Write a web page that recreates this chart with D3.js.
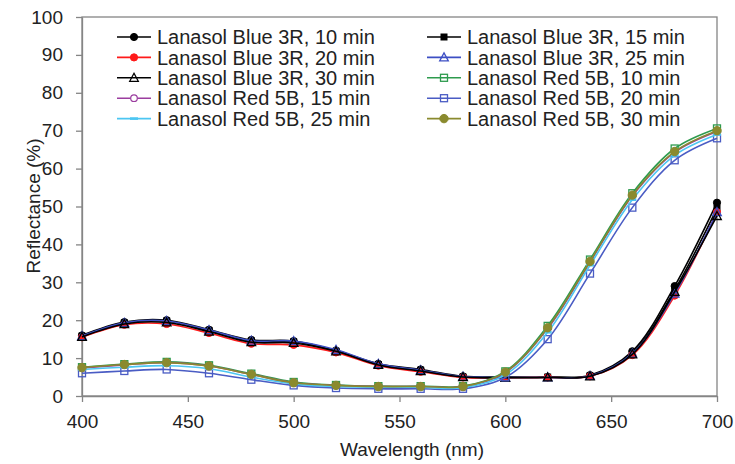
<!DOCTYPE html>
<html><head><meta charset="utf-8">
<script src="https://cdn.jsdelivr.net/npm/d3@7"></script>
<style>body{margin:0;background:#fff}svg{display:block}</style>
</head><body><svg id="c" width="735" height="464"></svg>
<script>
const wavelengths = [400,420,440,460,480,500,520,540,560,580,600,620,640,660,680,700];
const seriesNames = ["Lanasol Blue 3R, 10 min","Lanasol Blue 3R, 15 min","Lanasol Blue 3R, 20 min","Lanasol Blue 3R, 25 min","Lanasol Blue 3R, 30 min","Lanasol Red 5B, 10 min","Lanasol Red 5B, 15 min","Lanasol Red 5B, 20 min","Lanasol Red 5B, 25 min","Lanasol Red 5B, 30 min"];
const blue10 = [16.0,19.5,20.0,17.5,14.8,14.5,12.0,8.5,7.0,5.2,5.0,5.0,5.5,11.8,29.0,51.0];
const blue15 = [15.8,19.3,19.8,17.3,14.5,14.3,11.8,8.3,6.8,5.0,4.9,5.0,5.3,11.3,28.0,49.5];
const blue20 = [15.5,18.8,19.0,16.6,13.8,13.5,11.5,8.0,6.4,4.9,4.8,4.9,5.2,10.8,26.5,48.5];
const blue25 = [15.8,19.3,19.8,17.4,14.6,14.5,12.2,8.5,6.8,5.1,4.9,4.9,5.3,11.2,27.0,48.5];
const blue30 = [15.6,19.0,19.4,17.0,14.2,14.0,11.8,8.2,6.6,5.0,4.8,4.9,5.2,11.0,27.5,47.5];
const red10 = [7.6,8.4,9.0,8.1,5.9,3.7,2.9,2.6,2.6,2.6,6.5,18.5,36.0,53.5,65.3,70.6];
const red15 = [7.4,8.2,8.8,7.9,5.7,3.5,2.8,2.5,2.5,2.4,6.2,17.8,35.3,52.8,64.3,69.8];
const red20 = [6.0,6.6,7.0,6.0,4.3,2.8,2.1,1.9,1.9,1.9,4.9,15.0,32.3,49.7,62.2,68.0];
const red25 = [7.0,7.6,8.0,7.2,5.0,3.2,2.5,2.3,2.3,2.2,5.6,16.8,34.5,51.8,63.5,69.0];
const red30 = [7.5,8.3,8.8,7.9,5.7,3.5,2.8,2.5,2.5,2.5,6.3,18.0,35.5,53.0,64.5,70.0];
const xTicks = [400,450,500,550,600,650,700];
const yTicks = [0,10,20,30,40,50,60,70,80,90,100];
const colors = ["#000000","#000000","#ff1a1a","#3d4fc4","#000000","#2e9b4e","#9b3d9f","#4a5cc4","#4cc6f2","#8a8a2e"];
const markers = ["circleFill","squareFill","circleFill","triangleOpen","triangleOpen","squareOpen","circleOpen","squareOpen","dash","circleFill"];
const values = [blue10,blue15,blue20,blue25,blue30,red10,red15,red20,red25,red30];

const svg = d3.select("#c");
const FONT = "Liberation Sans, Arial, sans-serif";
const x = d3.scaleLinear().domain([400,700]).range([82,717]);
const y = d3.scaleLinear().domain([0,100]).range([396,17]);
const axisCol = "#858585";

svg.append("rect").attr("x",82).attr("y",17).attr("width",635).attr("height",379)
  .attr("fill","none").attr("stroke",axisCol).attr("stroke-width",1.3);

const gx = svg.append("g").attr("transform","translate(0,396)")
  .call(d3.axisBottom(x).tickValues(xTicks).tickSize(6).tickPadding(13).tickSizeOuter(0));
const gy = svg.append("g").attr("transform","translate(82,0)")
  .call(d3.axisLeft(y).tickValues(yTicks).tickSize(6).tickPadding(13).tickSizeOuter(0));
[gx,gy].forEach(g=>{
  g.select(".domain").attr("stroke",axisCol).attr("stroke-width",1.3);
  g.selectAll(".tick line").attr("stroke",axisCol).attr("stroke-width",1.3);
  g.selectAll("text").attr("font-family",FONT).attr("font-size",19).attr("fill","#222");
});

svg.append("text").attr("x",412).attr("y",456).attr("text-anchor","middle")
  .attr("font-family",FONT).attr("font-size",19).attr("fill","#222").text("Wavelength (nm)");
svg.append("text").attr("transform","translate(40,206) rotate(-90)").attr("text-anchor","middle")
  .attr("font-family",FONT).attr("font-size",19).attr("fill","#222").text("Reflectance (%)");

function drawMarker(g, type, cx, cy, col){
  if(type==="circleFill") g.append("circle").attr("cx",cx).attr("cy",cy).attr("r",col==="#8a8a2e"?4.2:3.6).attr("fill",col).attr("stroke",col);
  else if(type==="circleOpen") g.append("circle").attr("cx",cx).attr("cy",cy).attr("r",3.3).attr("fill","#fff").attr("stroke",col).attr("stroke-width",1.2);
  else if(type==="squareFill") g.append("rect").attr("x",cx-3.5).attr("y",cy-3.5).attr("width",7).attr("height",7).attr("fill",col);
  else if(type==="squareOpen") g.append("rect").attr("x",cx-3.5).attr("y",cy-3.5).attr("width",7).attr("height",7).attr("fill","none").attr("stroke",col).attr("stroke-width",1.3);
  else if(type==="triangleOpen") g.append("path").attr("d",`M${cx},${cy-4.5}L${cx+4.3},${cy+3.5}L${cx-4.3},${cy+3.5}Z`).attr("fill","none").attr("stroke",col).attr("stroke-width",1.3);
  else if(type==="dash") g.append("rect").attr("x",cx-4).attr("y",cy-1.3).attr("width",8).attr("height",2.6).attr("fill",col);
}

const line = d3.line().x((d,i)=>x(wavelengths[i])).y(d=>y(d)).curve(d3.curveCatmullRom.alpha(0.5));
const plot = svg.append("g");
values.forEach((vals,k)=>{
  const g = plot.append("g");
  g.append("path").attr("d",line(vals)).attr("fill","none").attr("stroke",colors[k]).attr("stroke-width",1.6);
  vals.forEach((v,i)=>drawMarker(g,markers[k],x(wavelengths[i]),y(v),colors[k]));
});

const leg = svg.append("g");
seriesNames.forEach((name,k)=>{
  const col = k%2, row = Math.floor(k/2);
  const lx = col===0?117:427, ly = 37+row*20.4;
  const g = leg.append("g");
  g.append("line").attr("x1",lx).attr("x2",lx+34).attr("y1",ly).attr("y2",ly).attr("stroke",colors[k]).attr("stroke-width",1.6);
  drawMarker(g,markers[k],lx+17,ly,colors[k]);
  g.append("text").attr("x",lx+40).attr("y",ly).attr("dy","0.36em").attr("font-family",FONT).attr("font-size",20).attr("fill","#222").text(name);
});
</script></body></html>
